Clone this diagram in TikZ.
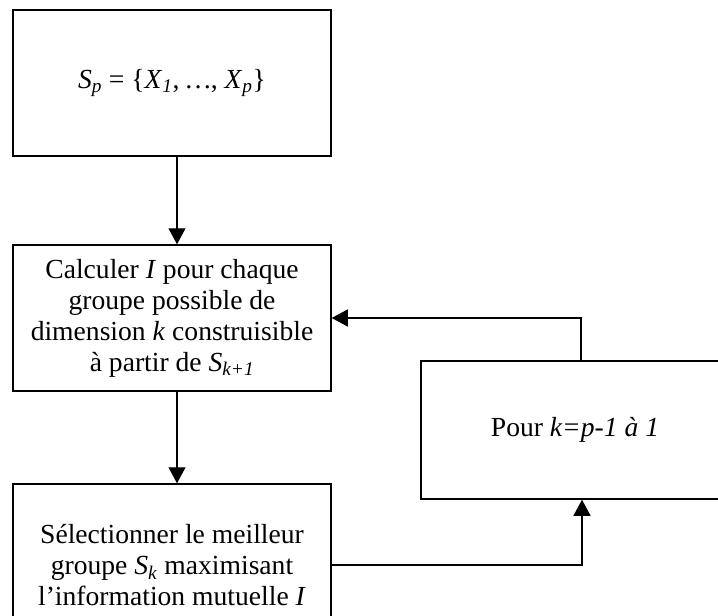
\documentclass[tikz,border=0pt]{standalone}
\usepackage{fontspec}
\setmainfont{Liberation Serif}
\usetikzlibrary{arrows.meta,calc}
\newcommand{\iv}[1]{\textit{#1}}
\newcommand{\isub}[1]{\textsubscript{\textit{#1}}}
\tikzset{pin/.style={line width=1.2pt, -{Triangle[length=16pt,width=17pt]}},
  blk/.style={draw, line width=1.5pt, align=center, inner sep=0pt,
    font=\fontsize{27.6}{31}\selectfont}}

\begin{document}
\begin{tikzpicture}[x=1pt, y=-1pt]
  \useasboundingbox (0,0) rectangle (718,616);
  \clip (0,0) rectangle (718,616);
  % main column
  \node[blk, minimum width=318pt, minimum height=146pt] (init) at (172,83) {\iv{S}\isub{p} = \{\iv{X}\isub{1}, \iv{\ldots}, \iv{X}\isub{p}\}};
  \node[blk, minimum width=318pt, minimum height=146pt] (calc) at (172,318) {Calculer \iv{I} pour chaque\\groupe possible de\\dimension \iv{k} construisible\\à partir de \iv{S}\isub{k+1}};
  \node[blk, minimum width=318pt, minimum height=162pt] (sel) at (172,565) {Sélectionner le meilleur\\groupe \iv{S}\isub{k} maximisant\\l’information mutuelle \iv{I}};
  \draw[pin] ($(init.south)+(5,0)$) -- ($(calc.north)+(5,0)$);
  \draw[pin] ($(calc.south)+(5,0)$) -- ($(sel.north)+(5,0)$);
  % loop
  \node[blk, minimum width=308pt, minimum height=138pt] (loop) at (575,430) {Pour \iv{k=p-1 à 1}};
  \draw[pin] ($(loop.north)+(6,0)$) |- (calc.east);
  \draw[pin] (sel.east) -| ($(loop.south)+(7,0)$);
\end{tikzpicture}
\end{document}
